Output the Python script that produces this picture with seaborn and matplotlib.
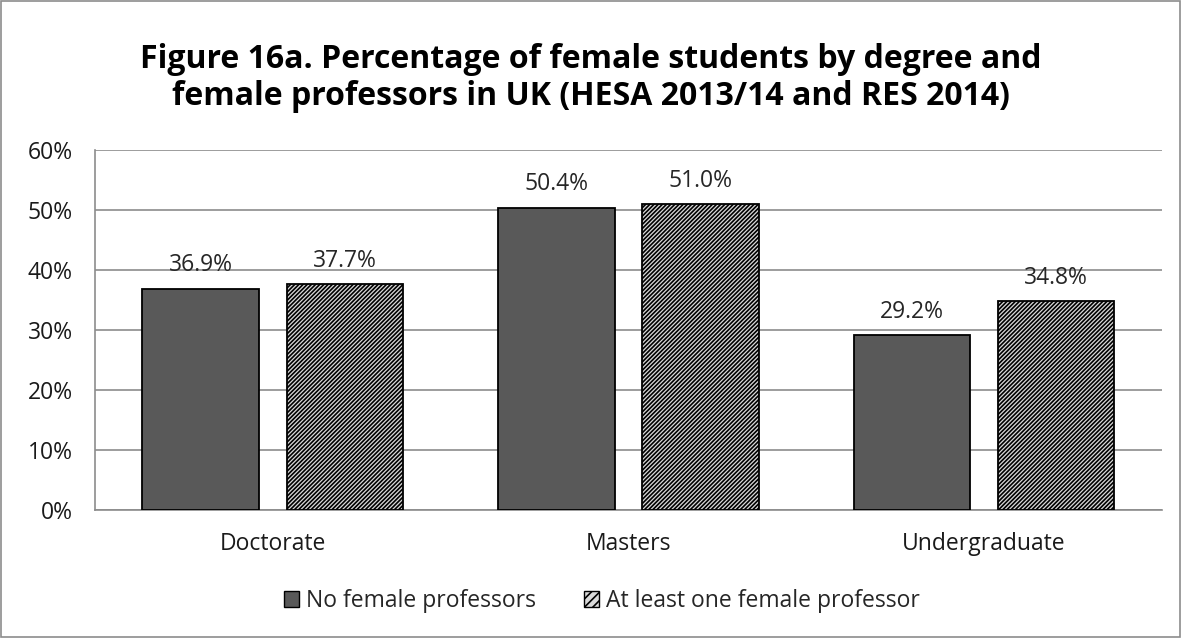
import matplotlib
matplotlib.use("Agg")
import matplotlib.pyplot as plt
import seaborn as sns
import pandas as pd
from matplotlib.patches import Patch, Rectangle
from matplotlib.ticker import FuncFormatter

degrees = ["Doctorate", "Masters", "Undergraduate"]
series_names = ["No female professors", "At least one female professor"]
no_female = [36.9, 50.4, 29.2]
one_female = [37.7, 51.0, 34.8]
title = ("Figure 16a. Percentage of female students by degree and\n"
         "female professors in UK (HESA 2013/14 and RES 2014)")

df = pd.DataFrame({
    "degree": degrees * 2,
    "group": [series_names[0]] * 3 + [series_names[1]] * 3,
    "pct": no_female + one_female,
})

sns.set_theme(style="white")
plt.rcParams["font.family"] = ["Open Sans", "DejaVu Sans"]
plt.rcParams["hatch.linewidth"] = 1.2

HATCH = "////////"
HATCH_COLOR = "#555555"
LIGHT = "#d9d9d9"
FS = 16.5


def stripe(patch):
    patch.set_hatch(HATCH)
    if hasattr(patch, "set_hatchcolor"):
        patch.set_hatchcolor(HATCH_COLOR)


fig = plt.figure(figsize=(11.82, 6.38), dpi=100)
fig.patches.append(Rectangle((0.001, 0.001), 0.997, 0.997, transform=fig.transFigure,
                             fill=False, edgecolor="#8c8c8c", linewidth=1.2))
ax = fig.add_axes([0.0804, 0.2006, 0.9026, 0.5644])

sns.barplot(data=df, x="degree", y="pct", hue="group", order=degrees,
            hue_order=series_names, palette=["#595959", LIGHT],
            width=0.81, gap=0.19, edgecolor="black", linewidth=1.3,
            saturation=1, legend=False, ax=ax, zorder=3)

for i, cont in enumerate(ax.containers):
    if i == 1:
        for bar in cont:
            stripe(bar)
    ax.bar_label(cont, labels=[f"{v:.1f}%" for v in cont.datavalues],
                 padding=8, fontsize=FS, color="#262626")

ax.set_ylim(0, 60)
ax.set_yticks(range(0, 61, 10))
ax.yaxis.set_major_formatter(FuncFormatter(lambda v, p: f"{v:.0f}%"))
ax.grid(axis="y", color="#8c8c8c", linewidth=1.2, zorder=0)
ax.set_axisbelow(True)
for s in ["top", "right"]:
    ax.spines[s].set_visible(False)
for s in ["left", "bottom"]:
    ax.spines[s].set_color("#8c8c8c")
    ax.spines[s].set_linewidth(1.2)
ax.tick_params(axis="y", length=0, labelsize=FS, labelcolor="#1a1a1a", pad=16)
ax.tick_params(axis="x", length=0, labelsize=FS, labelcolor="#1a1a1a", pad=16)
ax.set_xlabel("")
ax.set_ylabel("")

fig.text(0.5, 0.878, title, ha="center", va="center", fontsize=23,
         fontweight="bold", linespacing=1.15, color="black")

h_dark = Patch(facecolor="#595959", edgecolor="black", linewidth=1.0)
h_light = Patch(facecolor=LIGHT, edgecolor="black", linewidth=1.0)
stripe(h_light)
h_light.set_hatch("////")
fig.legend([h_dark, h_light], series_names, loc="center",
           bbox_to_anchor=(0.509, 0.058), ncol=2, frameon=False, fontsize=FS,
           handlelength=0.65, handleheight=0.65, handletextpad=0.3,
           columnspacing=2.1)

fig.savefig("out.png", dpi=100)
